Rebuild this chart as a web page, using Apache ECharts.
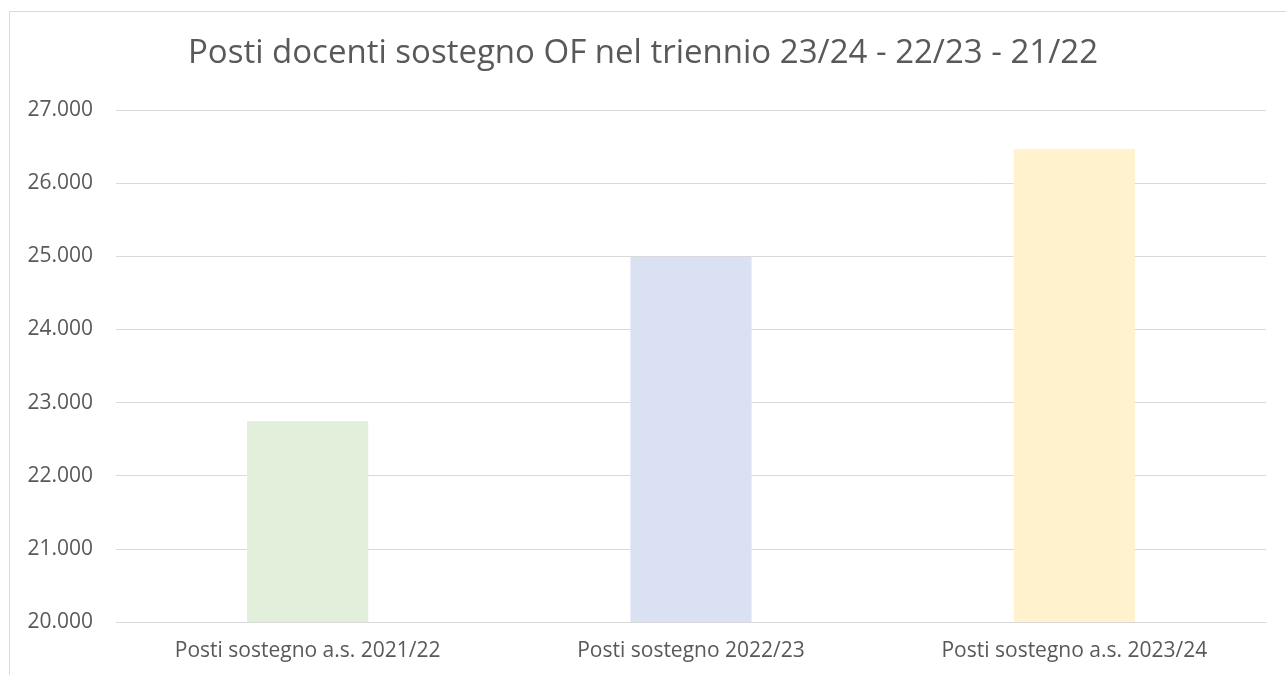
<!DOCTYPE html>
<html>
<head>
<meta charset="utf-8">
<script src="https://cdn.jsdelivr.net/npm/echarts@6/dist/echarts.min.js"></script>
<style>
html,body{margin:0;padding:0;background:#fff;}
#c{width:1286px;height:675px;}
</style>
</head>
<body>
<div id="c"></div>
<script>
const titleText = 'Posti docenti sostegno OF nel triennio 23/24 - 22/23 - 21/22';
const categories = ['Posti sostegno a.s. 2021/22', 'Posti sostegno 2022/23', 'Posti sostegno a.s. 2023/24'];
const values = [22748, 24990, 26467];
const barColors = ['#E2EFDA', '#D9E1F2', '#FFF2CC'];
const yMin = 20000, yMax = 27000, yStep = 1000;

const chart = echarts.init(document.getElementById('c'), null, {renderer: 'canvas'});
const fmt = v => String(Math.round(v)).replace(/\B(?=(\d{3})+(?!\d))/g, '.');
chart.setOption({
  animation: false,
  backgroundColor: '#fff',
  graphic: [{
    type: 'rect', silent: true,
    shape: {x: 9.5, y: 11.5, width: 1400, height: 800},
    style: {fill: 'none', stroke: '#D9D9D9', lineWidth: 1}
  }],
  title: {
    text: titleText, left: 'center', top: 32,
    textStyle: {fontFamily: 'Open Sans', fontSize: 33, fontWeight: 'normal', color: '#595959'}
  },
  grid: {left: 116, right: 20, top: 110, bottom: 53},
  xAxis: {
    type: 'category', data: categories,
    axisLine: {show: true, lineStyle: {color: '#D9D9D9', width: 1}},
    axisTick: {show: false},
    axisLabel: {fontFamily: 'Open Sans', fontSize: 21, color: '#595959', margin: 19}
  },
  yAxis: {
    type: 'value', min: yMin, max: yMax, interval: yStep,
    axisLine: {show: false}, axisTick: {show: false},
    splitLine: {lineStyle: {color: '#D9D9D9', width: 1}},
    axisLabel: {fontFamily: 'Open Sans', fontSize: 21, color: '#595959', margin: 23, formatter: fmt}
  },
  series: [{
    type: 'bar', barWidth: '31.6%',
    data: values.map((v, i) => ({value: v, itemStyle: {color: barColors[i]}}))
  }]
});
</script>
</body>
</html>
